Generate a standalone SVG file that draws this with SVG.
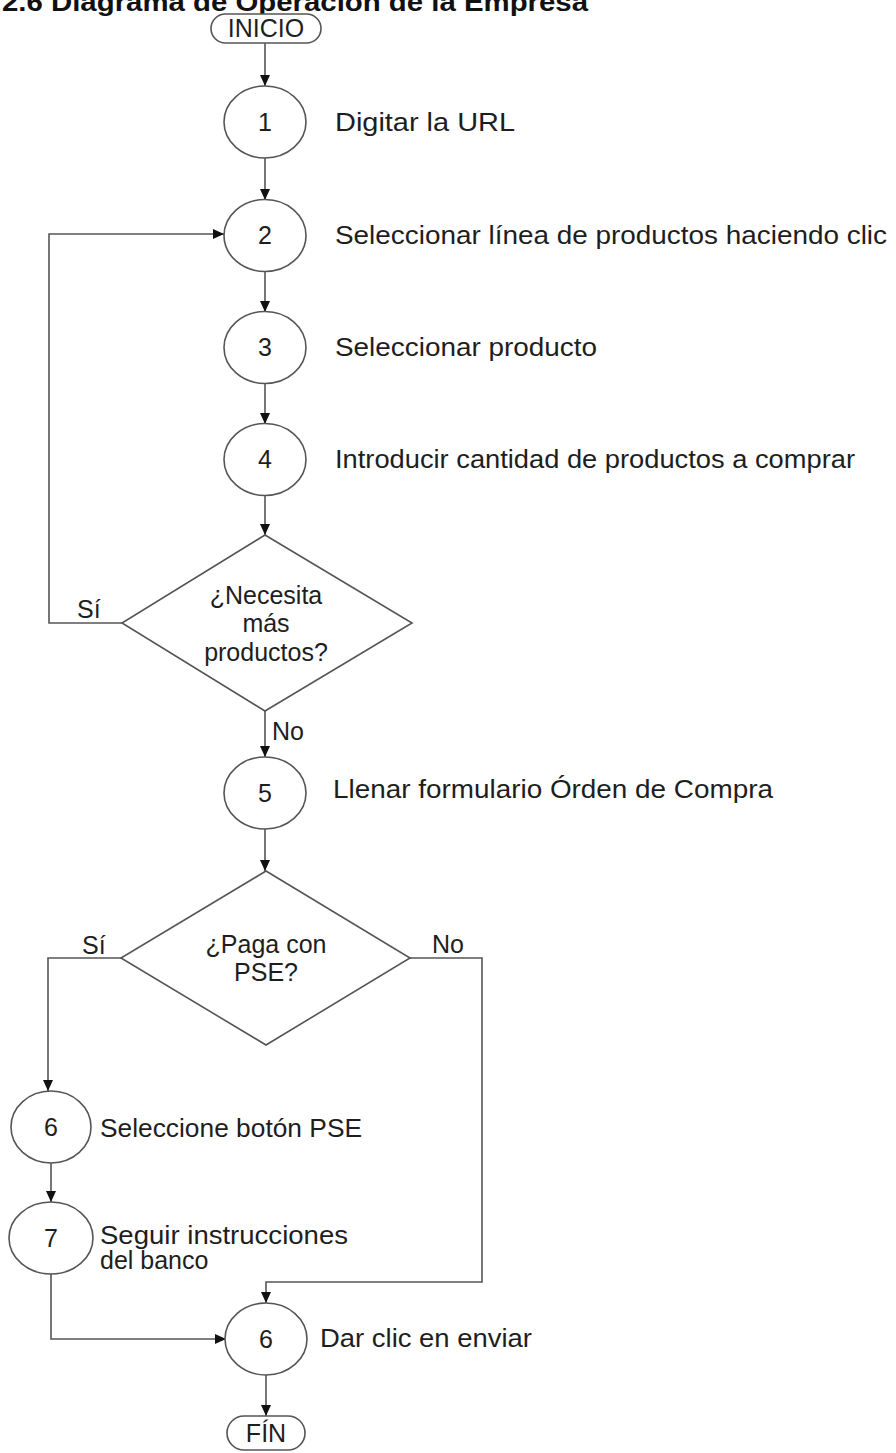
<svg xmlns="http://www.w3.org/2000/svg" width="896" height="1453" viewBox="0 0 896 1453">
  <style>
    .shape { fill: #ffffff; stroke: #555555; stroke-width: 1.6; }
    .link { fill: none; stroke: #555555; stroke-width: 1.6; }
    .txt { font-family: "Liberation Sans", Arial, sans-serif; font-size: 25px; fill: #1e1e1e; }
    .mid { text-anchor: middle; }
    .title { font-family: "Liberation Sans", Arial, sans-serif; font-size: 26px; font-weight: bold; fill: #111111; }
  </style>
  <defs>
    <marker id="arrow" markerUnits="userSpaceOnUse" markerWidth="12" markerHeight="12" refX="11" refY="6" orient="auto">
      <path d="M0,1 L11,6 L0,11 z" fill="#111111"/>
    </marker>
  </defs>
  <rect width="896" height="1453" fill="#ffffff"/>

  <text class="title" x="2" y="11" textLength="586" lengthAdjust="spacingAndGlyphs">2.6 Diagrama de Operación de la Empresa</text>

  <g id="connectors">
    <line class="link" x1="265" y1="43" x2="265" y2="86" marker-end="url(#arrow)"/>
    <line class="link" x1="265" y1="158" x2="265" y2="200" marker-end="url(#arrow)"/>
    <line class="link" x1="265" y1="271" x2="265" y2="312" marker-end="url(#arrow)"/>
    <line class="link" x1="265" y1="383" x2="265" y2="424" marker-end="url(#arrow)"/>
    <line class="link" x1="265" y1="495" x2="265" y2="535" marker-end="url(#arrow)"/>
    <polyline class="link" points="122,623 49,623 49,234 224,234" marker-end="url(#arrow)"/>
    <line class="link" x1="265" y1="711" x2="265" y2="757" marker-end="url(#arrow)"/>
    <line class="link" x1="265" y1="829" x2="265" y2="871" marker-end="url(#arrow)"/>
    <polyline class="link" points="121,958 48,958 48,1091" marker-end="url(#arrow)"/>
    <line class="link" x1="51" y1="1163" x2="51" y2="1202" marker-end="url(#arrow)"/>
    <polyline class="link" points="51,1274 51,1339 226,1339" marker-end="url(#arrow)"/>
    <polyline class="link" points="410,958 482,958 482,1282 266,1282 266,1303" marker-end="url(#arrow)"/>
    <line class="link" x1="266" y1="1375" x2="266" y2="1416" marker-end="url(#arrow)"/>
    <text class="txt" x="77" y="618">Sí</text>
    <text class="txt" x="272" y="740">No</text>
    <text class="txt" x="82" y="954">Sí</text>
    <text class="txt" x="432" y="953">No</text>
  </g>

  <g id="inicio">
    <rect class="shape" x="211" y="14" width="110" height="29" rx="14.5"/>
    <text class="txt mid" x="266" y="37">INICIO</text>
  </g>

  <g id="step1">
    <ellipse class="shape" cx="265" cy="122" rx="41" ry="36"/>
    <text class="txt mid" x="265" y="131">1</text>
    <text class="txt" x="335" y="131" textLength="180" lengthAdjust="spacingAndGlyphs">Digitar la URL</text>
  </g>

  <g id="step2">
    <ellipse class="shape" cx="265" cy="235.5" rx="41" ry="36"/>
    <text class="txt mid" x="265" y="244">2</text>
    <text class="txt" x="335" y="244" textLength="552" lengthAdjust="spacingAndGlyphs">Seleccionar línea de productos haciendo clic</text>
  </g>

  <g id="step3">
    <ellipse class="shape" cx="265" cy="347.5" rx="41" ry="36"/>
    <text class="txt mid" x="265" y="356">3</text>
    <text class="txt" x="335" y="356" textLength="262" lengthAdjust="spacingAndGlyphs">Seleccionar producto</text>
  </g>

  <g id="step4">
    <ellipse class="shape" cx="265" cy="459.5" rx="41" ry="36"/>
    <text class="txt mid" x="265" y="468">4</text>
    <text class="txt" x="335" y="468" textLength="520" lengthAdjust="spacingAndGlyphs">Introducir cantidad de productos a comprar</text>
  </g>

  <g id="decision1">
    <polygon class="shape" points="265,535 412,623 265,711 122,623"/>
    <text class="txt mid" x="266" y="604">¿Necesita</text>
    <text class="txt mid" x="266" y="632">más</text>
    <text class="txt mid" x="266" y="661">productos?</text>
  </g>

  <g id="step5">
    <ellipse class="shape" cx="265" cy="793" rx="41" ry="36"/>
    <text class="txt mid" x="265" y="802">5</text>
    <text class="txt" x="333" y="798" textLength="440" lengthAdjust="spacingAndGlyphs">Llenar formulario Órden de Compra</text>
  </g>

  <g id="decision2">
    <polygon class="shape" points="266,871 410,958 266,1045 121,958"/>
    <text class="txt mid" x="266" y="953">¿Paga con</text>
    <text class="txt mid" x="266" y="981">PSE?</text>
  </g>

  <g id="step6-pse">
    <ellipse class="shape" cx="51" cy="1127" rx="40" ry="36"/>
    <text class="txt mid" x="51" y="1136">6</text>
    <text class="txt" x="100" y="1137" textLength="262" lengthAdjust="spacingAndGlyphs">Seleccione botón PSE</text>
  </g>

  <g id="step7">
    <ellipse class="shape" cx="51" cy="1238" rx="42" ry="36"/>
    <text class="txt mid" x="51" y="1247">7</text>
    <text class="txt" x="100" y="1244" textLength="248" lengthAdjust="spacingAndGlyphs">Seguir instrucciones</text>
    <text class="txt" x="100" y="1269">del banco</text>
  </g>

  <g id="step6-send">
    <ellipse class="shape" cx="266" cy="1339" rx="41" ry="36"/>
    <text class="txt mid" x="266" y="1348">6</text>
    <text class="txt" x="320" y="1347" textLength="212" lengthAdjust="spacingAndGlyphs">Dar clic en enviar</text>
  </g>

  <g id="fin">
    <rect class="shape" x="227" y="1416" width="78" height="34" rx="17"/>
    <text class="txt mid" x="266" y="1442">FÍN</text>
  </g>
</svg>
